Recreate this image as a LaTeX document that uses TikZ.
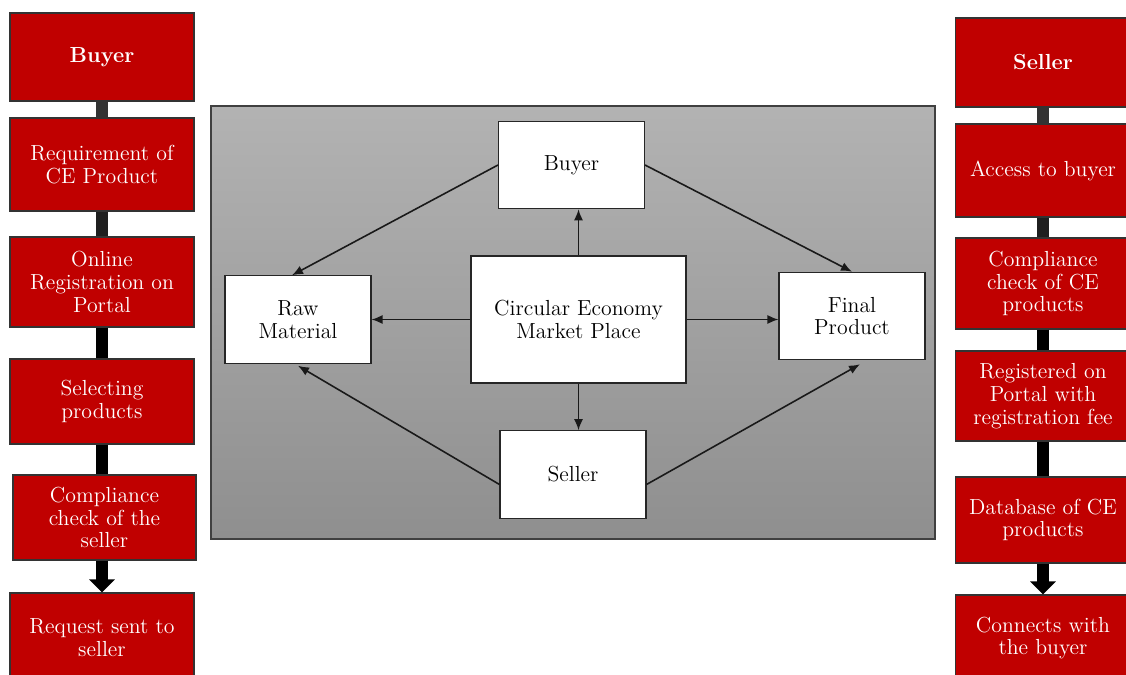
\documentclass[tikz,border=0pt]{standalone}
\usetikzlibrary{arrows.meta}
\definecolor{cered}{HTML}{C00000}
\tikzset{
  redbox/.style={draw=black!80, line width=0.6pt, fill=cered, text=white, align=center, inner sep=0pt, font=\fontsize{12.4}{13}\selectfont},
  whitebox/.style={draw=black!85, line width=0.6pt, fill=white, align=center, inner sep=0pt, minimum width=2.92cm, minimum height=1.75cm, font=\fontsize{12.4}{13}\selectfont},
  bar/.style={line width=0.24cm},
  flow/.style={-{Latex[length=2.2mm,width=1.8mm]}, line width=0.9pt, black!90},
}
\begin{document}
\begin{tikzpicture}[x=0.02cm,y=-0.02cm]
\useasboundingbox (0,0) rectangle (1126,675);
% left column: buyer steps
\node[redbox, minimum width=3.68cm, minimum height=1.76cm] (b1) at (102,57) {\textbf{Buyer}};
\node[redbox, minimum width=3.68cm, minimum height=1.86cm] (b2) at (102,164.5) {Requirement of\\CE Product};
\node[redbox, minimum width=3.68cm, minimum height=1.8cm] (b3) at (102,282) {Online\\Registration on\\Portal};
\node[redbox, minimum width=3.68cm, minimum height=1.7cm] (b4) at (102,401.5) {Selecting\\products};
\node[redbox, minimum width=3.66cm, minimum height=1.7cm] (b5) at (104.5,517.5) {Compliance\\check of the\\seller};
\node[redbox, minimum width=3.68cm, minimum height=1.8cm] (b6) at (102,638) {Request sent to\\seller};
% right column: seller steps
\node[redbox, minimum width=3.52cm, minimum height=1.78cm] (s1) at (1043,62.5) {\textbf{Seller}};
\node[redbox, minimum width=3.52cm, minimum height=1.86cm] (s2) at (1043,170.5) {Access to buyer};
\node[redbox, minimum width=3.52cm, minimum height=1.82cm] (s3) at (1043,283.5) {Compliance\\check of CE\\products};
\node[redbox, minimum width=3.52cm, minimum height=1.8cm] (s4) at (1043,396) {Registered on\\Portal with\\registration fee};
\node[redbox, minimum width=3.52cm, minimum height=1.72cm] (s5) at (1043,520) {Database of CE\\products};
\node[redbox, minimum width=3.52cm, minimum height=1.72cm] (s6) at (1043,638) {Connects with\\the buyer};
\foreach \a/\b/\c in {b1/b2/black!80, b2/b3/black!88, b3/b4/black, b4/b5/black, s1/s2/black!80, s2/s3/black!88, s3/s4/black, s4/s5/black}
  \draw[bar, \c] (\a.south) -- (\a.south |- \b.north);
\draw[bar, -{Triangle[width=0.5cm,length=0.26cm]}] (b6.north |- b5.south) -- (b6.north);
\draw[bar, -{Triangle[width=0.5cm,length=0.26cm]}] (s5.south) -- (s6.north);
% market place panel
\draw[draw=black!75, line width=0.6pt, top color=black!30, bottom color=black!44] (211,106) rectangle (935,539);
\node[whitebox, minimum width=4.3cm, minimum height=2.54cm] (mp) at (578.5,319.5) {Circular Economy\\Market Place};
\node[whitebox] (ib) at (571.5,165) {Buyer};
\node[whitebox] (rm) at (298,319.5) {Raw\\Material};
\node[whitebox] (fp) at (852,316) {Final\\Product};
\node[whitebox] (is) at (573,474.5) {Seller};
\draw[flow] (mp.north) -- (mp.north |- ib.south);
\draw[flow] (mp.south) -- (mp.south |- is.north);
\draw[flow] (mp.west) -- (mp.west -| rm.east);
\draw[flow] (mp.east) -- (mp.east -| fp.west);
\draw[flow] (ib.west) -- ([xshift=-0.12cm]rm.north);
\draw[flow] (ib.east) -- (fp.north);
\draw[flow] ([yshift=-0.2cm]is.west) -- ([yshift=-0.04cm]rm.south);
\draw[flow] ([yshift=-0.2cm]is.east) -- ([xshift=0.16cm,yshift=-0.08cm]fp.south);
\end{tikzpicture}
\end{document}
